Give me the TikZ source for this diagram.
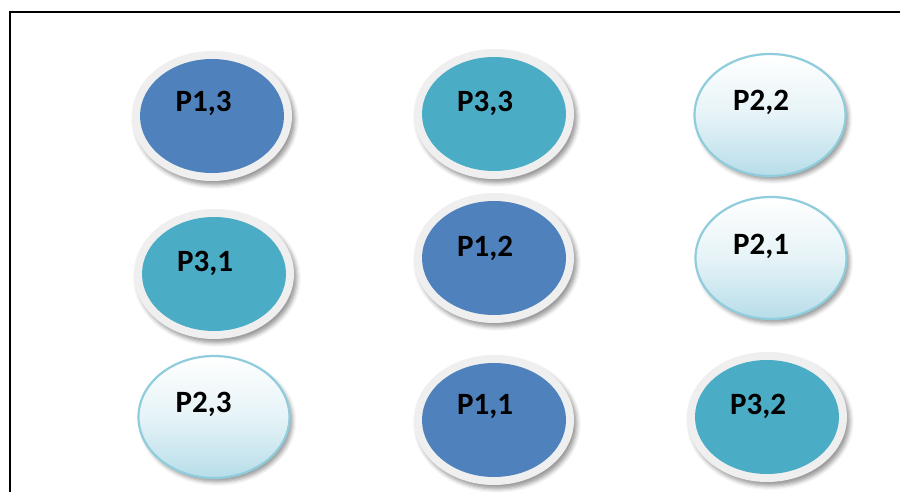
\documentclass[tikz,border=0pt]{standalone}
\usepackage{fontspec}
\setmainfont{Carlito}
\usetikzlibrary{shapes.geometric,shadows.blur}
\definecolor{cellblue}{HTML}{4F81BD}
\definecolor{cellteal}{HTML}{4BACC6}
\definecolor{ringgray}{HTML}{EFEFEF}
\definecolor{paleedge}{HTML}{8FCCDC}
\definecolor{palefill}{HTML}{B7DDE9}
\tikzset{
  softshadow/.style={blur shadow={shadow xshift=3pt, shadow yshift=-4pt,
      shadow opacity=40, shadow blur radius=4pt}},
  % solid cell: light grey ring with a coloured core
  ringouter/.style={ellipse, inner sep=0pt, minimum width=160pt,
      minimum height=130pt, fill=ringgray, softshadow},
  ringcore/.style={ellipse, inner sep=0pt, minimum width=144pt,
      minimum height=114pt},
  % pale cell: white-to-blue gradient with a blue rim
  palecell/.style={ellipse, inner sep=0pt, minimum width=151pt,
      minimum height=122pt, draw=paleedge, line width=2.2pt,
      top color=white, bottom color=palefill, middle color=palefill!35,
      softshadow},
  celltext/.style={anchor=base, inner sep=0pt,
      font=\bfseries\fontsize{31}{31}\selectfont}
}
\begin{document}
\begin{tikzpicture}[x=1pt,y=-1pt]
\useasboundingbox (0,0) rectangle (900,492);
\clip (0,0) rectangle (900,492);
% outer frame, running off the right and bottom edges
\draw[line width=2pt] (10,12) rectangle (930,520);

% top row
\node[ringouter] (p13) at (212,116) {};
\node[ringcore, fill=cellblue] (p13c) at (p13.center) {};
\node[celltext] (p13t) at (203.5,112) {P1,3};

\node[ringouter] (p33) at (494,114) {};
\node[ringcore, fill=cellteal] (p33c) at (p33.center) {};
\node[celltext] (p33t) at (485,112) {P3,3};

\node[palecell] (p22) at (770,115) {};
\node[celltext] (p22t) at (761,111) {P2,2};

% middle row
\node[ringouter] (p31) at (214,274) {};
\node[ringcore, fill=cellteal] (p31c) at (p31.center) {};
\node[celltext] (p31t) at (205,271) {P3,1};

\node[ringouter] (p12) at (494,258) {};
\node[ringcore, fill=cellblue] (p12c) at (p12.center) {};
\node[celltext] (p12t) at (485,256) {P1,2};

\node[palecell] (p21) at (771,258) {};
\node[celltext] (p21t) at (761,254) {P2,1};

% bottom row
\node[palecell] (p23) at (214,417) {};
\node[celltext] (p23t) at (203.5,412) {P2,3};

\node[ringouter] (p11) at (494,420) {};
\node[ringcore, fill=cellblue] (p11c) at (p11.center) {};
\node[celltext] (p11t) at (485,414) {P1,1};

\node[ringouter] (p32) at (767,417) {};
\node[ringcore, fill=cellteal] (p32c) at (p32.center) {};
\node[celltext] (p32t) at (758,414) {P3,2};
\end{tikzpicture}
\end{document}
